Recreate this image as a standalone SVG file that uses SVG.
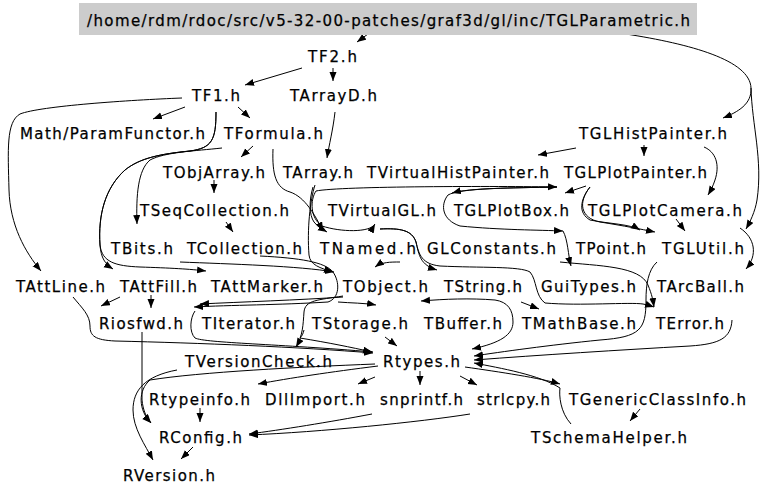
<svg xmlns="http://www.w3.org/2000/svg" width="768" height="495" viewBox="0 0 768 495">
<defs>
<marker id="ah" markerWidth="10" markerHeight="8" refX="9" refY="3.5" orient="auto" markerUnits="userSpaceOnUse">
<path d="M0,0 L9,3.5 L0,7 z" fill="#000"/>
</marker>
<style>
text{font-family:"DejaVu Sans","Liberation Sans",sans-serif;font-size:15px;fill:#000;stroke:#000;stroke-width:0.25}
.e path{fill:none;stroke:#000;stroke-width:1;marker-end:url(#ah)}
</style>
</defs>
<rect width="768" height="495" fill="#fff"/>
<g class="e" id="edges">
<path d="M368,34 L357,42"/>
<path d="M626,34 C690,44 750,60 751,88 C752,104 738,112 723,118"/>
<path d="M751,88 C752,125 763,160 757,200 C755,212 750,222 746,229"/>
<path d="M302,68 L245,85"/>
<path d="M333,68 L333,81"/>
<path d="M185,107 L153,119"/>
<path d="M238,107 L250,118"/>
<path d="M182,98 C130,100 40,106 20,114 C6,122 8,150 9,190 C10,225 25,252 41,271"/>
<path d="M216,112 C216,140 212,148 190,151 C160,154 140,158 125,170 C105,188 98,215 100,245 C101,258 105,264 113,269"/>
<path d="M216,112 C216,140 212,148 190,151 C160,154 140,158 125,170 C105,188 98,215 100,245 C102,262 115,266 140,267 C170,268 190,269 206,271"/>
<path d="M222,148 C195,151 165,152 150,160 C138,170 136,195 137,224"/>
<path d="M253,146 L241,157"/>
<path d="M273,149 C272,175 276,188 290,192 C305,197 315,215 323,231"/>
<path d="M335,112 C333,130 329,145 327,158"/>
<path d="M315,185 C310,200 307,230 309,255 C310,265 320,268 333,272"/>
<path d="M214,180 L214,193"/>
<path d="M226,222 L233,232"/>
<path d="M180,262 C230,264 300,266 334,272"/>
<path d="M260,256 C300,258 325,262 333,272 C340,282 340,298 328,302 C280,305 230,305 194,307"/>
<path d="M343,297 C300,300 240,302 200,304"/>
<path d="M195,311 C190,318 189,332 195,338 C205,343 280,344 373,352"/>
<path d="M73,297 C82,308 90,315 90,326 C90,336 95,340 115,341 C200,343 300,347 373,353"/>
<path d="M120,297 L101,306"/>
<path d="M151,295 L151,308"/>
<path d="M142,332 L142,400 C143,410 146,417 151,423"/>
<path d="M338,302 C350,303 365,303 376,305"/>
<path d="M343,296 C318,300 305,300 304,312 C303,325 303,335 296,347"/>
<path d="M304,330 C303,334 302,336 300,338 C330,343 350,347 372,352"/>
<path d="M385,337 L397,346"/>
<path d="M513,322 C513,310 508,302 495,300 C470,298 445,299 421,301"/>
<path d="M513,322 C513,335 500,343 472,349"/>
<path d="M521,302 L539,309"/>
<path d="M380,229 C400,228 412,230 416,242 C419,255 420,265 437,270"/>
<path d="M316,191 C340,186 500,186 557,187"/>
<path d="M557,187 C510,188 470,188 452,193"/>
<path d="M557,187 C510,188 460,188 448,195 C440,205 442,220 460,226 C500,230 540,230 563,231"/>
<path d="M563,231 C568,240 568,255 571,266"/>
<path d="M316,191 C310,200 310,218 322,226 C340,232 370,233 375,224"/>
<path d="M313,187 C309,200 309,215 314,222 C318,227 322,229 327,232"/>
<path d="M380,229 C400,228 412,230 416,242 C419,255 422,264 440,266 C480,268 520,266 530,272 C537,280 535,296 545,303 C580,306 630,302 643,304 C648,305 651,306 654,307"/>
<path d="M560,262 C600,266 640,266 648,285 C652,295 653,300 654,307"/>
<path d="M400,262 C390,262 382,262 375,267"/>
<path d="M576,148 L538,155"/>
<path d="M644,145 L644,156"/>
<path d="M704,147 C716,152 720,165 715,180 C713,186 711,190 708,195"/>
<path d="M586,186 L565,193"/>
<path d="M590,187 C580,200 578,213 590,220 C610,224 630,224 640,230"/>
<path d="M590,187 C578,202 580,218 600,222 C625,226 640,229 655,232"/>
<path d="M676,219 L685,231"/>
<path d="M740,228 C755,238 758,255 746,269"/>
<path d="M657,262 C648,270 646,285 646,300 C646,330 640,337 600,340 C550,345 500,352 474,356"/>
<path d="M732,320 C731,338 720,344 690,346 C620,350 540,355 474,360"/>
<path d="M465,367 C500,372 540,378 560,384"/>
<path d="M571,424 C560,412 559,395 560,388 C540,375 500,368 474,363"/>
<path d="M640,409 L630,421"/>
<path d="M378,366 C330,372 290,378 258,384"/>
<path d="M375,377 L358,384"/>
<path d="M420,371 L420,385"/>
<path d="M460,376 L477,385"/>
<path d="M375,364 C300,367 200,372 150,380 C138,390 138,410 151,423"/>
<path d="M200,408 L200,422"/>
<path d="M372,414 C330,422 280,430 249,434"/>
<path d="M470,414 C420,422 320,432 249,435"/>
<path d="M193,447 L181,459"/>
<path d="M177,370 C145,376 133,390 133,410 C133,428 145,445 153,460"/>
</g>
<g id="n_root"><rect x="79" y="3" width="618" height="32" fill="#cccccc"/><text x="87" y="26" textLength="603" lengthAdjust="spacing">/home/rdm/rdoc/src/v5-32-00-patches/graf3d/gl/inc/TGLParametric.h</text></g>
<g id="n_TF2"><text x="308" y="62" textLength="49" lengthAdjust="spacing">TF2.h</text></g>
<g id="n_TF1"><text x="192" y="101" textLength="48" lengthAdjust="spacing">TF1.h</text></g>
<g id="n_TArrayD"><text x="290" y="101" textLength="87" lengthAdjust="spacing">TArrayD.h</text></g>
<g id="n_ParamFunctor"><text x="20" y="139" textLength="185" lengthAdjust="spacing">Math/ParamFunctor.h</text></g>
<g id="n_TFormula"><text x="224" y="139" textLength="99" lengthAdjust="spacing">TFormula.h</text></g>
<g id="n_TGLHistPainter"><text x="579" y="139" textLength="148" lengthAdjust="spacing">TGLHistPainter.h</text></g>
<g id="n_TObjArray"><text x="163" y="178" textLength="102" lengthAdjust="spacing">TObjArray.h</text></g>
<g id="n_TArray"><text x="283" y="178" textLength="70" lengthAdjust="spacing">TArray.h</text></g>
<g id="n_TVirtualHistPainter"><text x="367" y="178" textLength="182" lengthAdjust="spacing">TVirtualHistPainter.h</text></g>
<g id="n_TGLPlotPainter"><text x="564" y="178" textLength="143" lengthAdjust="spacing">TGLPlotPainter.h</text></g>
<g id="n_TSeqCollection"><text x="140" y="216" textLength="149" lengthAdjust="spacing">TSeqCollection.h</text></g>
<g id="n_TVirtualGL"><text x="328" y="216" textLength="108" lengthAdjust="spacing">TVirtualGL.h</text></g>
<g id="n_TGLPlotBox"><text x="454" y="216" textLength="115" lengthAdjust="spacing">TGLPlotBox.h</text></g>
<g id="n_TGLPlotCamera"><text x="588" y="216" textLength="154" lengthAdjust="spacing">TGLPlotCamera.h</text></g>
<g id="n_TBits"><text x="111" y="254" textLength="62" lengthAdjust="spacing">TBits.h</text></g>
<g id="n_TCollection"><text x="187" y="254" textLength="115" lengthAdjust="spacing">TCollection.h</text></g>
<g id="n_TNamed"><text x="320" y="254" textLength="96" lengthAdjust="spacing">TNamed.h</text></g>
<g id="n_GLConstants"><text x="427" y="254" textLength="129" lengthAdjust="spacing">GLConstants.h</text></g>
<g id="n_TPoint"><text x="576" y="254" textLength="70" lengthAdjust="spacing">TPoint.h</text></g>
<g id="n_TGLUtil"><text x="662" y="254" textLength="82" lengthAdjust="spacing">TGLUtil.h</text></g>
<g id="n_TAttLine"><text x="16" y="292" textLength="89" lengthAdjust="spacing">TAttLine.h</text></g>
<g id="n_TAttFill"><text x="120" y="292" textLength="77" lengthAdjust="spacing">TAttFill.h</text></g>
<g id="n_TAttMarker"><text x="211" y="292" textLength="112" lengthAdjust="spacing">TAttMarker.h</text></g>
<g id="n_TObject"><text x="343" y="292" textLength="85" lengthAdjust="spacing">TObject.h</text></g>
<g id="n_TString"><text x="444" y="292" textLength="78" lengthAdjust="spacing">TString.h</text></g>
<g id="n_GuiTypes"><text x="541" y="292" textLength="95" lengthAdjust="spacing">GuiTypes.h</text></g>
<g id="n_TArcBall"><text x="657" y="292" textLength="87" lengthAdjust="spacing">TArcBall.h</text></g>
<g id="n_Riosfwd"><text x="99" y="329" textLength="84" lengthAdjust="spacing">Riosfwd.h</text></g>
<g id="n_TIterator"><text x="202" y="329" textLength="93" lengthAdjust="spacing">TIterator.h</text></g>
<g id="n_TStorage"><text x="312" y="329" textLength="96" lengthAdjust="spacing">TStorage.h</text></g>
<g id="n_TBuffer"><text x="424" y="329" textLength="78" lengthAdjust="spacing">TBuffer.h</text></g>
<g id="n_TMathBase"><text x="522" y="329" textLength="114" lengthAdjust="spacing">TMathBase.h</text></g>
<g id="n_TError"><text x="656" y="329" textLength="68" lengthAdjust="spacing">TError.h</text></g>
<g id="n_TVersionCheck"><text x="185" y="367" textLength="147" lengthAdjust="spacing">TVersionCheck.h</text></g>
<g id="n_Rtypes"><text x="383" y="367" textLength="77" lengthAdjust="spacing">Rtypes.h</text></g>
<g id="n_Rtypeinfo"><text x="149" y="405" textLength="101" lengthAdjust="spacing">Rtypeinfo.h</text></g>
<g id="n_DllImport"><text x="265" y="405" textLength="100" lengthAdjust="spacing">DllImport.h</text></g>
<g id="n_snprintf"><text x="380" y="405" textLength="83" lengthAdjust="spacing">snprintf.h</text></g>
<g id="n_strlcpy"><text x="477" y="405" textLength="73" lengthAdjust="spacing">strlcpy.h</text></g>
<g id="n_TGenericClassInfo"><text x="569" y="405" textLength="177" lengthAdjust="spacing">TGenericClassInfo.h</text></g>
<g id="n_RConfig"><text x="159" y="443" textLength="83" lengthAdjust="spacing">RConfig.h</text></g>
<g id="n_TSchemaHelper"><text x="531" y="443" textLength="156" lengthAdjust="spacing">TSchemaHelper.h</text></g>
<g id="n_RVersion"><text x="123" y="481" textLength="92" lengthAdjust="spacing">RVersion.h</text></g>
</svg>
